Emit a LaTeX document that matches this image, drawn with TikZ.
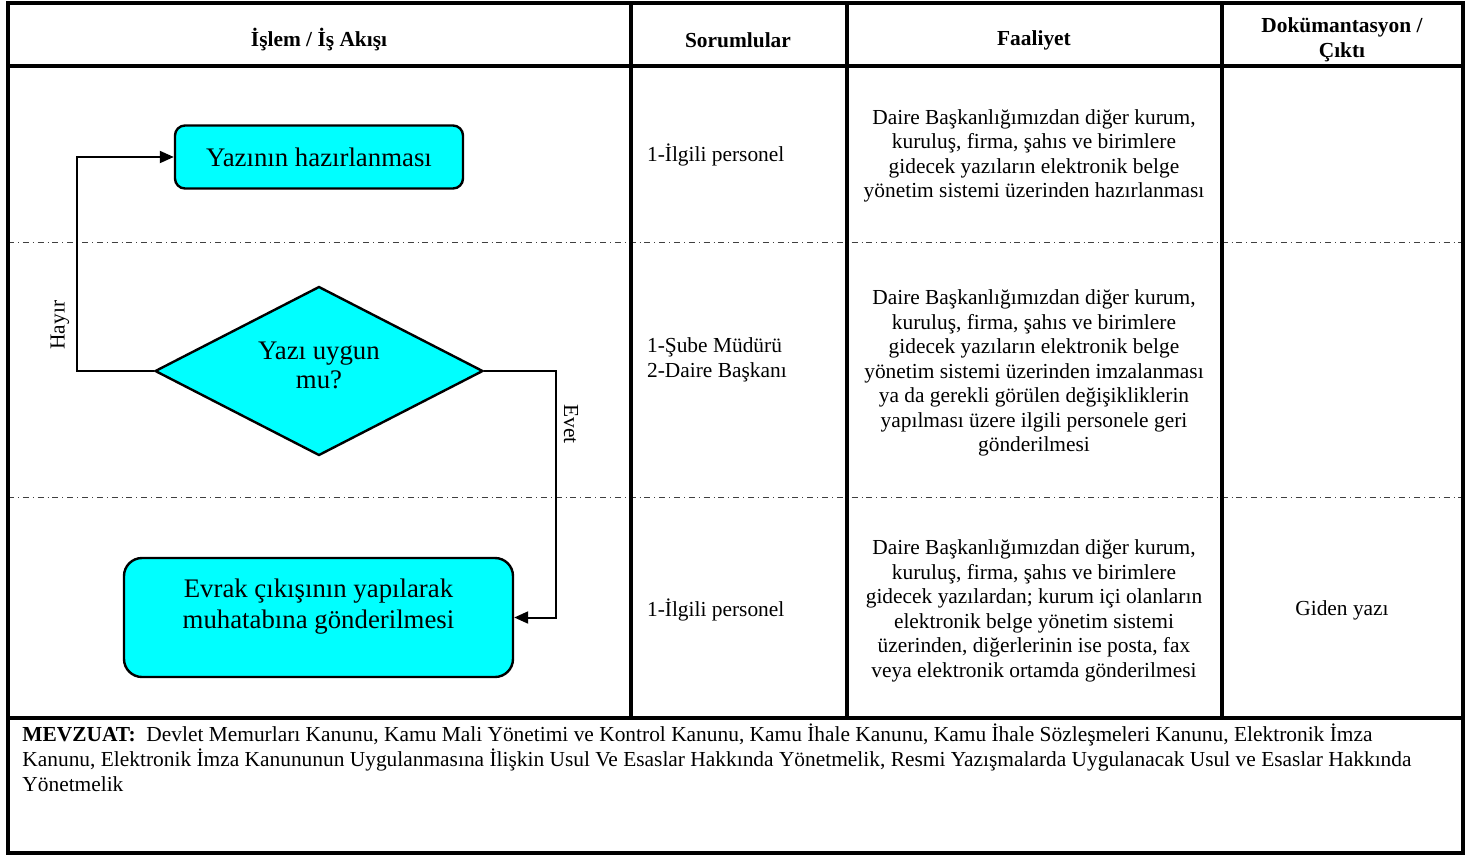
\documentclass[tikz,border=0pt]{standalone}
\usepackage{fontspec}
\setmainfont{Liberation Serif}
\usetikzlibrary{positioning,arrows.meta,shapes.geometric}
\definecolor{aqua}{HTML}{00FFFF}
\tikzset{
  >={Triangle[length=7pt,width=6pt]},
}

\begin{document}
\begin{tikzpicture}[
  x=0.5pt,y=-0.5pt,
  every node/.style={font=\fontsize{10.7}{12.25}\selectfont},
  frame/.style={line width=2pt},
  rowsep/.style={line width=0.4pt,dash dot,black!75},
  head/.style={font=\bfseries\fontsize{10.7}{12.25}\selectfont,align=center},
  task/.style={draw,line width=1.2pt,fill=aqua,rounded corners=5pt,
    align=center,font=\fontsize{13.4}{15.2}\selectfont},
  decide/.style={draw,line width=1.2pt,fill=aqua,diamond,aspect=3,inner sep=0pt,
    align=center,font=\fontsize{13.4}{14.5}\selectfont},
  conn/.style={->,line width=1pt},
  who/.style={anchor=west,align=left},
  act/.style={align=center},
]
\useasboundingbox (0,0) rectangle (1474,858);

\draw[rowsep] (8,242) -- (1463,242);
\draw[rowsep] (8,497) -- (1463,497);
\draw[frame] (8,3) rectangle (1463,853);
\draw[frame] (8,66) -- (1463,66);
\draw[frame] (8,718) -- (1463,718);
\draw[frame] (631,3) -- (631,718);
\draw[frame] (847,3) -- (847,718);
\draw[frame] (1222,3) -- (1222,718);

\node[head] (h1) at (319,40) {İşlem / İş Akışı};
\node[head] (h2) at (738,40) {Sorumlular};
\node[head] (h3) at (1034,40) {Faaliyet};
\node[head] (h4) at (1342,40) {Dokümantasyon /\\Çıktı};

\node[task,minimum width=144pt,minimum height=31.5pt] (prep) at (319,157) {Yazının hazırlanması};
\node[decide,minimum width=164pt,minimum height=84.5pt,text depth=6pt] (check) at (319,371) {Yazı uygun\\mu?};
\node[task,rounded corners=9pt,minimum width=194.5pt,minimum height=59.5pt,text depth=14pt] (send) at (318.5,617.5)
  {Evrak çıkışının yapılarak\\muhatabına gönderilmesi};

\path
(check.west) edge[conn,to path={-- ++(-77,0) |- node[pos=0.107,rotate=90,anchor=south] {Hayır} (\tikztotarget)}] (prep.west)
(check.east) edge[conn,to path={-- ++(72,0) |- node[pos=0.108,rotate=-90,anchor=south] {Evet} (\tikztotarget)}] (send.east);

\node[who] (r1) at (640,155) {1-İlgili personel};
\node[who] (r2) at (640,360) {1-Şube Müdürü\\2-Daire Başkanı};
\node[who] (r3) at (640,610) {1-İlgili personel};

\node[act] (f1) at (1034,156) {Daire Başkanlığımızdan diğer kurum,\\kuruluş, firma, şahıs ve birimlere\\gidecek yazıların elektronik belge\\yönetim sistemi üzerinden hazırlanması};
\node[act] (f2) at (1034,373) {Daire Başkanlığımızdan diğer kurum,\\kuruluş, firma, şahıs ve birimlere\\gidecek yazıların elektronik belge\\yönetim sistemi üzerinden imzalanması\\ya da gerekli görülen değişikliklerin\\yapılması üzere ilgili personele geri\\gönderilmesi};
\node[act] (f3) at (1034,611) {Daire Başkanlığımızdan diğer kurum,\\kuruluş, firma, şahıs ve birimlere\\gidecek yazılardan; kurum içi olanların\\elektronik belge yönetim sistemi\\üzerinden, diğerlerinin ise posta, fax\\veya elektronik ortamda gönderilmesi};

\node (out) at (1342,610) {Giden yazı};

\node[anchor=north west,align=left,inner sep=0pt,font=\fontsize{10.7}{12.5}\selectfont] (law) at (22,723)
  {\textbf{MEVZUAT:}\ \ Devlet Memurları Kanunu, Kamu Mali Yönetimi ve Kontrol Kanunu, Kamu İhale Kanunu, Kamu İhale Sözleşmeleri Kanunu, Elektronik İmza\\Kanunu, Elektronik İmza Kanununun Uygulanmasına İlişkin Usul Ve Esaslar Hakkında Yönetmelik, Resmi Yazışmalarda Uygulanacak Usul ve Esaslar Hakkında\\Yönetmelik};

\end{tikzpicture}
\end{document}
